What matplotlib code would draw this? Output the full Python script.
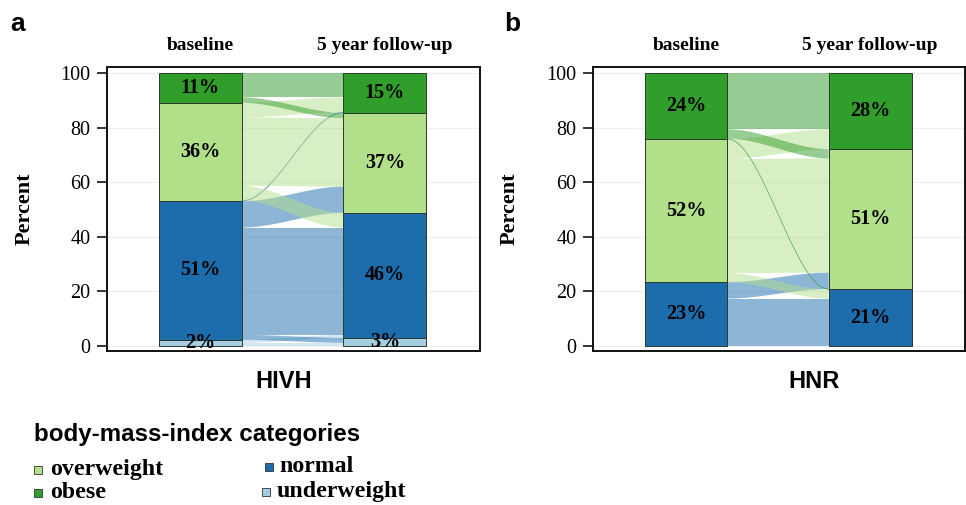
import numpy as np
import matplotlib
matplotlib.use("Agg")
import matplotlib.pyplot as plt
from matplotlib.patches import Polygon, Rectangle

# ---------------- data ----------------
categories = ["underweight", "normal", "overweight", "obese"]
cat_colors = ["#a6cee3", "#1d6cac", "#b2df8a", "#319d2b"]
timepoints = ["baseline", "5 year follow-up"]

# flows[source (baseline)][destination (follow-up)] in percent
flows_hivh = [
    [1.2, 1.1, 0.0, 0.0],
    [1.8, 39.3, 9.6, 0.3],
    [0.0, 5.4, 25.0, 5.4],
    [0.0, 0.0, 2.0, 8.9],
]
flows_hnr = [
    [0.0, 0.0, 0.0, 0.0],
    [0.0, 17.4, 6.0, 0.0],
    [0.0, 3.3, 41.8, 7.3],
    [0.0, 0.2, 3.4, 20.6],
]
cohorts = ["HIVH", "HNR"]
panel_letters = ["a", "b"]
yticks = [0, 20, 40, 60, 80, 100]
legend_title = "body-mass-index categories"
legend_order = ["overweight", "obese", "normal", "underweight"]

SERIF = "Liberation Serif"
SANS = "Liberation Sans"

W, H = 966, 505
fig = plt.figure(figsize=(W / 100, H / 100), dpi=100)


def fx(px):
    return px / W


def fy(py):
    return 1 - py / H


BAR_W = 0.45


def draw_alluvial(ax, F):
    F = np.array(F, dtype=float)
    n = F.shape[0]
    left = F.sum(axis=1)
    right = F.sum(axis=0)
    lb = np.concatenate([[0], np.cumsum(left)[:-1]])
    rb = np.concatenate([[0], np.cumsum(right)[:-1]])
    x0 = 1 + BAR_W / 2
    x1 = 2 - BAR_W / 2
    t = np.linspace(0, 1, 80)
    s = t * t * (3 - 2 * t)
    xs = x0 + (x1 - x0) * t
    for i in range(n):
        for j in range(n):
            v = F[i, j]
            if v <= 0:
                continue
            yl = lb[i] + F[i, :j].sum()
            yr = rb[j] + F[:i, j].sum()
            bot = yl + (yr - yl) * s
            top = bot + v
            pts = np.concatenate([np.column_stack([xs, bot]),
                                  np.column_stack([xs[::-1], top[::-1]])])
            lw = 0.35 if v < 1 else 0
            poly = Polygon(pts, closed=True, facecolor=cat_colors[i],
                           edgecolor=cat_colors[i], linewidth=lw,
                           alpha=0.5, zorder=1)
            ax.add_patch(poly)
    for xc, totals, bases in [(1, left, lb), (2, right, rb)]:
        for k in range(n):
            if totals[k] <= 0:
                continue
            ax.add_patch(Rectangle((xc - BAR_W / 2, bases[k]), BAR_W, totals[k],
                                   facecolor=cat_colors[k], edgecolor="#2b3a2b",
                                   linewidth=0.7, zorder=2))
            lab = f"{int(np.floor(totals[k] + 0.5))}%"
            ax.text(xc, bases[k] + totals[k] / 2, lab, ha="center", va="center",
                    fontsize=14.5, fontfamily=SERIF, fontweight="bold",
                    color="black", zorder=3, clip_on=False)


panel_px = [(107, 480), (593, 965)]
top_px, bot_px = 67, 351
label_x = [284, 814]
letter_x = [18, 512]
ylabel_x = [25, 510]

for p, (F, cohort) in enumerate(zip([flows_hivh, flows_hnr], cohorts)):
    l, r = panel_px[p]
    ax = fig.add_axes([fx(l), fy(bot_px), fx(r - l), (bot_px - top_px) / H])
    ax.set_xlim(0.495, 2.515)
    ax.set_ylim(-1.8, 102.2)
    ax.set_yticks(yticks)
    ax.set_yticklabels([str(v) for v in yticks], fontfamily=SERIF, fontsize=14.5)
    ax.set_xticks([])
    for yv in yticks:
        ax.axhline(yv, color="#eeeeee", linewidth=0.8, zorder=0)
    ax.tick_params(axis="y", length=7.5, width=1.1, pad=4.5, colors="black")
    for sp in ax.spines.values():
        sp.set_linewidth(1.4)
        sp.set_color("#111111")
    draw_alluvial(ax, F)
    for xi, tp in enumerate(timepoints):
        ax.text(xi + 1, 1 + 21 / (bot_px - top_px), tp, transform=ax.get_xaxis_transform(),
                ha="center", va="center", fontfamily=SERIF, fontweight="bold",
                fontsize=14)
    fig.text(fx(ylabel_x[p]), fy(209), "Percent", rotation=90, ha="center",
             va="center", fontfamily=SERIF, fontweight="bold", fontsize=16)
    fig.text(fx(label_x[p]), fy(382), cohort, ha="center", va="center",
             fontfamily=SANS, fontweight="bold", fontsize=17)
    fig.text(fx(letter_x[p]), fy(24), panel_letters[p], ha="center", va="center",
             fontfamily=SANS, fontweight="bold", fontsize=19)

# ---------------- legend ----------------
fig.text(fx(34), fy(434), legend_title, ha="left", va="center", fontfamily=SANS,
         fontweight="bold", fontsize=17.4)
leg_pos = {
    "overweight": (34, 470, 50),
    "obese": (34, 493, 50),
    "normal": (265, 467, 279),
    "underweight": (262, 492, 277),
}
for name in legend_order:
    kx, ky, tx = leg_pos[name]
    c = cat_colors[categories.index(name)]
    fig.add_artist(Rectangle((fx(kx), fy(ky + 4)), 8 / W, 8 / H, transform=fig.transFigure,
                             facecolor=c, edgecolor="#333333", linewidth=0.6))
    fig.text(fx(tx), fy(ky - 1), name, ha="left", va="center", fontfamily=SERIF,
             fontweight="bold", fontsize=17.2)

fig.savefig("out.png", dpi=100)
